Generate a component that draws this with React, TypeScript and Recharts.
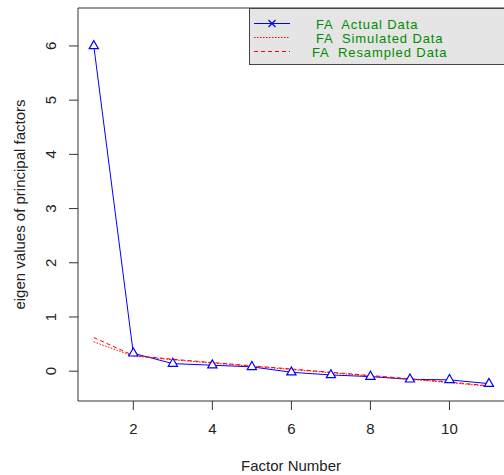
import React from 'react';
import { ComposedChart, Line, XAxis, YAxis, ReferenceLine } from 'recharts';

const factors = [1, 2, 3, 4, 5, 6, 7, 8, 9, 10, 11];
const actual = [6.0, 0.33, 0.14, 0.11, 0.08, -0.02, -0.07, -0.1, -0.15, -0.16, -0.23];
const simulated = [0.54, 0.28, 0.21, 0.15, 0.09, 0.03, -0.03, -0.09, -0.15, -0.21, -0.28];
const resampled = [0.62, 0.29, 0.22, 0.16, 0.1, 0.04, -0.02, -0.08, -0.14, -0.2, -0.27];
const xTicks = [2, 4, 6, 8, 10];
const yTicks = [0, 1, 2, 3, 4, 5, 6];

const data = factors.map((f, i) => ({
  factor: f,
  actual: actual[i],
  simulated: simulated[i],
  resampled: resampled[i],
}));

const font = '"Liberation Sans", Arial, sans-serif';
const axisColor = '#333';

// open triangle, centroid on the data point (like R pch 2)
const Triangle = (props: any) => {
  const { cx, cy } = props;
  if (cx == null || cy == null) return null;
  return (
    <polygon
      points={`${cx},${cy - 5.3} ${cx - 4.6},${cy + 2.7} ${cx + 4.6},${cy + 2.7}`}
      fill="#fff"
      stroke="#0000ff"
      strokeWidth={1.2}
    />
  );
};

const YTick = (props: any) => {
  const { x, y, payload } = props;
  return (
    <text
      x={x}
      y={y}
      transform={`rotate(-90, ${x}, ${y})`}
      textAnchor="middle"
      fontSize={15}
      fill="#222"
      fontFamily={font}
    >
      {payload.value}
    </text>
  );
};

const legendRows = [
  { label: 'FA  Actual Data', tx: 316, y: 23.5, dash: undefined, color: '#0000ff', mark: true },
  { label: 'FA  Simulated Data', tx: 316, y: 37.5, dash: '1.5 1.5', color: '#ff0000', mark: false },
  { label: 'FA  Resampled Data', tx: 312, y: 51.5, dash: '4 3', color: '#ff0000', mark: false },
];

const Legendbox = () => (
  <svg
    width={504}
    height={475}
    style={{ position: 'absolute', left: 0, top: 0, pointerEvents: 'none' }}
  >
    <rect x={249.5} y={8.5} width={260} height={56} fill="#e5e5e5" stroke="#444" />
    {legendRows.map((r) => (
      <g key={r.label}>
        <line x1={254} x2={290} y1={r.y} y2={r.y} style={{ stroke: r.color }} strokeWidth={1} strokeDasharray={r.dash} />
        {r.mark && (
          <g style={{ stroke: r.color }} strokeWidth={1.2}>
            <line x1={268.5} x2={275.5} y1={r.y - 3.5} y2={r.y + 3.5} />
            <line x1={268.5} x2={275.5} y1={r.y + 3.5} y2={r.y - 3.5} />
          </g>
        )}
        <text
          x={r.tx}
          y={r.y + 5}
          fontSize={13}
          letterSpacing={0.9}
          fill="#008b00"
          fontFamily={font}
          style={{ whiteSpace: 'pre' }}
        >
          {r.label}
        </text>
      </g>
    ))}
  </svg>
);

export default function App() {
  return (
    <div style={{ position: 'absolute', left: 0, top: 0, width: 504, height: 475, background: '#fff' }}>
      <ComposedChart width={504} height={475} data={data} margin={{ top: 8, right: 0, bottom: 0, left: 0 }}>
        <XAxis
          dataKey="factor"
          type="number"
          domain={[0.6, 11.38]}
          ticks={xTicks}
          height={74}
          tickSize={9}
          tickMargin={13}
          stroke={axisColor}
          tick={{ fontSize: 15, fill: '#222', fontFamily: font }}
          label={{
            value: 'Factor Number',
            position: 'insideBottom',
            offset: 4,
            style: { fontSize: 15, fill: '#222', fontFamily: font },
          }}
        />
        <YAxis
          type="number"
          domain={[-0.55, 6.7]}
          ticks={yTicks}
          width={78}
          tickSize={9}
          tickMargin={13}
          stroke={axisColor}
          tick={<YTick />}
          label={{
            value: 'eigen values of principal factors',
            angle: -90,
            position: 'insideLeft',
            offset: 20,
            style: { fontSize: 15, fill: '#222', fontFamily: font, textAnchor: 'middle' },
          }}
        />
        <ReferenceLine y={6.7} stroke={axisColor} />
        <Line
          dataKey="actual"
          stroke="#0000ff"
          strokeWidth={1}
          dot={<Triangle />}
          activeDot={false}
          isAnimationActive={false}
        />
        <Line
          dataKey="simulated"
          stroke="#ff0000"
          strokeWidth={1}
          strokeDasharray="1.5 1.5"
          dot={false}
          activeDot={false}
          isAnimationActive={false}
        />
        <Line
          dataKey="resampled"
          stroke="#ff0000"
          strokeWidth={1}
          strokeDasharray="4 3"
          dot={false}
          activeDot={false}
          isAnimationActive={false}
        />
      </ComposedChart>
      <Legendbox />
    </div>
  );
}
